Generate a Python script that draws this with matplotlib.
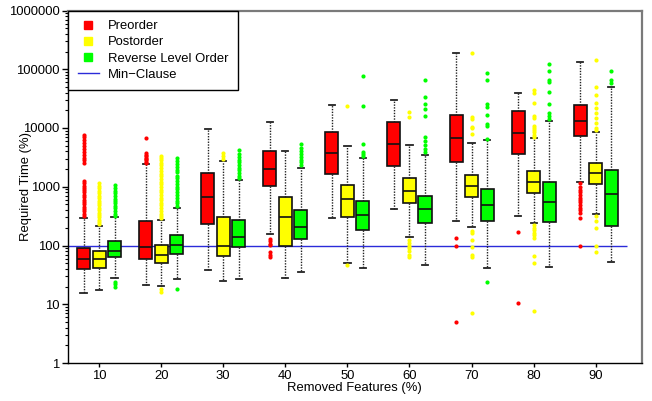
import matplotlib
matplotlib.use("Agg")
import matplotlib.pyplot as plt
from matplotlib.lines import Line2D
from matplotlib.ticker import FixedLocator, FuncFormatter, LogLocator, NullFormatter

plt.rcParams['font.family'] = ['Liberation Sans', 'DejaVu Sans']

groups = [10, 20, 30, 40, 50, 60, 70, 80, 90]
series_names = ["Preorder", "Postorder", "Reverse Level Order"]

# Preorder
pre_q1 = [39.5, 60, 234, 1028, 1665, 2230, 2600, 3570, 7230]
pre_med = [60, 94, 667, 2000, 3800, 5340, 6840, 8130, 13000]
pre_q3 = [89, 260, 1710, 4010, 8450, 12700, 16700, 19500, 25000]
pre_lo = [15.8, 20.9, 38, 154, 293, 412, 263, 320, 1217]
pre_hi = [296, 2410, 9510, 12800, 24400, 30400, 190000, 39500, 132000]
pre_fliers = [
    [320, 350, 380, 420, 460, 500, 550, 600, 660, 720, 800, 880, 960, 1050, 1150, 1250,
     2500, 2800, 3100, 3500, 3900, 4400, 5000, 5600, 6300, 7000, 7500],
    [2500, 2650, 2800, 2950, 3100, 3300, 3500, 3800, 6700],
    [],
    [127, 118, 108, 101, 78, 70, 63],
    [],
    [],
    [135, 100, 5],
    [171, 10.3],
    [1140, 1000, 880, 800, 722, 650, 593, 540, 487, 440, 400, 352, 289, 99],
]

# Postorder
post_q1 = [40.6, 51, 65, 100, 304, 521, 660, 790, 1110]
post_med = [58.5, 70, 99, 304, 610, 855, 1040, 1217, 1710]
post_q3 = [80, 103, 301, 675, 1070, 1390, 1600, 1870, 2530]
post_lo = [17.5, 20.3, 24.4, 28, 50, 137, 203, 238, 338]
post_hi = [216, 271, 2770, 4060, 4880, 5070, 5620, 6680, 8550]
post_fliers = [
    [230, 250, 270, 300, 330, 360, 400, 440, 480, 530, 580, 640, 700, 770, 850, 940, 1040, 1140],
    [290, 320, 350, 390, 430, 480, 530, 590, 650, 720, 800, 890, 990, 1100, 1220, 1350, 1500,
     1660, 1850, 2050, 2300, 2550, 2850, 3100, 3340, 18.5, 16],
    [3000, 3300, 3700],
    [],
    [23400, 46],
    [15600, 18500, 123, 110, 100, 90, 80, 70, 62.5],
    [7800, 9900, 10500, 14300, 15600, 190000, 178, 161, 123, 95, 68, 64, 7.1],
    [44500, 40000, 26400, 16000, 14600, 10800, 10100, 9250, 8650, 7600, 7100,
     222, 200, 183, 165, 150, 132, 66, 49.5, 7.6],
    [143000, 50000, 36100, 26400, 21700, 17800, 14600, 12200, 10000, 9200,
     316, 260, 195, 100, 79],
]

# Reverse Level Order
rlo_q1 = [62.6, 73, 94, 127, 185, 240, 260, 250, 216]
rlo_med = [82, 103, 139, 208, 329, 412, 482, 548, 742]
rlo_q3 = [119, 150, 267, 396, 577, 702, 925, 1217, 1925]
rlo_lo = [28.5, 26.4, 27, 35.6, 41.6, 46, 41.6, 42.3, 51.4]
rlo_hi = [301, 438, 1285, 2080, 3080, 3510, 6180, 13000, 49400]
rlo_fliers = [
    [320, 350, 390, 430, 470, 520, 570, 630, 700, 770, 850, 950, 1070, 24, 22, 20],
    [470, 520, 580, 650, 720, 800, 900, 1000, 1100, 1250, 1400, 1550, 1750, 1950, 2200,
     2450, 2750, 3050, 18.5],
    [1400, 1550, 1700, 1900, 2100, 2350, 2600, 2900, 3200, 3600, 4200],
    [2300, 2600, 2900, 3200, 3600, 4000, 4500, 5400],
    [3300, 3600, 3950, 5400, 23400, 76000],
    [3950, 4400, 5130, 6000, 7100, 16000, 21100, 26000, 33800, 66600],
    [6620, 10900, 11500, 16700, 22600, 25700, 65900, 85700, 24],
    [14300, 16000, 18200, 25700, 41100, 60900, 66000, 93800, 123000],
    [57800, 65900, 93800],
]

min_clause = 100
min_clause_x = [5, 95]

colors = ["#ff0000", "#ffff00", "#00ff00"]
offsets = [-2.5, 0.0, 2.5]

fig = plt.figure(figsize=(6.52, 4.01), dpi=100)
ax = fig.add_axes([68 / 652, 1 - 363 / 401, (641.7 - 68) / 652, (363 - 10.5) / 401])

all_series = [
    (pre_q1, pre_med, pre_q3, pre_lo, pre_hi, pre_fliers),
    (post_q1, post_med, post_q3, post_lo, post_hi, post_fliers),
    (rlo_q1, rlo_med, rlo_q3, rlo_lo, rlo_hi, rlo_fliers),
]

ax.hlines(min_clause, min_clause_x[0], min_clause_x[1], color="#2b2bd9", lw=1.0, zorder=1)

for si, (q1, med, q3, lo, hi, fl) in enumerate(all_series):
    stats = []
    for i in range(len(groups)):
        stats.append(dict(q1=q1[i], med=med[i], q3=q3[i], whislo=lo[i], whishi=hi[i], fliers=fl[i]))
    pos = [g + offsets[si] for g in groups]
    ax.bxp(stats, positions=pos, widths=2.1, capwidths=1.0, patch_artist=True, manage_ticks=False,
           boxprops=dict(facecolor=colors[si], edgecolor="#111111", linewidth=1.2),
           medianprops=dict(color="#111111", linewidth=1.2),
           whiskerprops=dict(color="#222222", linewidth=1.0, linestyle=(0, (1, 1))),
           capprops=dict(color="#222222", linewidth=1.3),
           flierprops=dict(marker="o", markersize=3, markerfacecolor=colors[si],
                           markeredgecolor="none", linestyle="none"),
           zorder=3)

ax.set_yscale("log")
ax.set_ylim(1, 1e6)
ax.set_xlim(5, 97.4)

ax.yaxis.set_major_locator(FixedLocator([1, 10, 100, 1000, 10000, 100000, 1000000]))
ax.yaxis.set_major_formatter(FuncFormatter(lambda v, p: "%d" % round(v)))
ax.yaxis.set_minor_locator(LogLocator(base=10, subs=range(2, 10)))
ax.yaxis.set_minor_formatter(NullFormatter())
ax.set_xticks(groups)
ax.set_xticklabels([str(g) for g in groups])

ax.tick_params(axis="y", which="major", direction="out", length=4, width=1, labelsize=9.4, pad=2,
               right=False)
ax.tick_params(axis="y", which="minor", direction="out", length=2.5, width=0.8, right=False)
ax.tick_params(axis="x", which="major", direction="out", length=3, width=1, labelsize=9.4, pad=2,
               top=False)
ax.tick_params(axis="x", which="minor", bottom=False, top=False)

for s in ["left", "bottom"]:
    ax.spines[s].set_color("black")
    ax.spines[s].set_linewidth(1.0)
for s in ["top", "right"]:
    ax.spines[s].set_color("#7a7a7a")
    ax.spines[s].set_linewidth(1.6)

ax.set_ylabel("Required Time (%)", fontsize=9.4)
ax.yaxis.set_label_coords((31.5 - 68) / 574, 0.5)
ax.set_xlabel("Removed Features (%)", fontsize=9.4)
ax.xaxis.set_label_coords(0.5, (363 - 381.5) / 352.5)

handles = [Line2D([], [], marker="s", markersize=6, color=c, linestyle="none") for c in colors]
handles.append(Line2D([], [], color="#2b2bd9", lw=1.0))
labels = series_names + ["Min\u2212Clause"]
leg = ax.legend(handles, labels, loc="upper left", bbox_to_anchor=(0, 1), borderaxespad=0,
                fontsize=9.4, frameon=True, fancybox=False, framealpha=1, edgecolor="black",
                borderpad=0.75, labelspacing=0.3, handlelength=1.6, handletextpad=0.7)
leg.get_frame().set_linewidth(1.0)
leg.set_zorder(10)

fig.savefig("out.png", dpi=100)
